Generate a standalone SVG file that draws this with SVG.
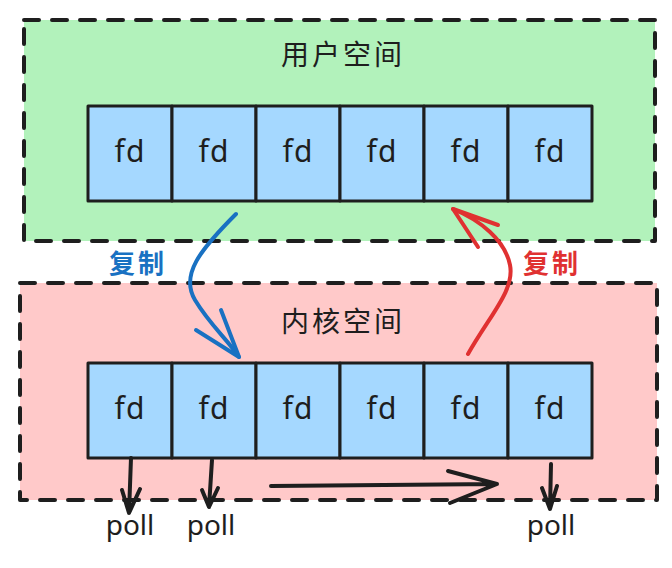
<svg xmlns="http://www.w3.org/2000/svg" width="672" height="568" viewBox="0 0 672 568">
<style>
.zone{stroke:#1e1e1e;stroke-width:4;stroke-dasharray:15 13;stroke-linecap:round;stroke-linejoin:round}
.cell{fill:#a5d8ff;stroke:#1e1e1e;stroke-width:3;stroke-linejoin:round}
.fd{font-family:"Noto Sans","Liberation Sans",sans-serif;font-size:30px;fill:#1e1e1e;text-anchor:middle;letter-spacing:1px}
.title{font-family:"Noto Sans CJK SC",sans-serif;font-size:28px;fill:#1e1e1e;text-anchor:middle;letter-spacing:3px}
.lbl{font-family:"Noto Sans CJK SC",sans-serif;font-size:26px;font-weight:bold;text-anchor:middle;letter-spacing:3px}
.poll{font-family:"Noto Sans","Liberation Sans",sans-serif;font-size:28px;fill:#1e1e1e;text-anchor:middle}
.ln{fill:none;stroke-width:4;stroke-linecap:round;stroke-linejoin:round}
</style>
<rect width="672" height="568" fill="#ffffff"/>
<g id="user-space">
<rect class="zone" x="24" y="20" width="631" height="221" fill="#b2f2bb"/>
<text class="title" x="343" y="65">用户空间</text>
</g>
<g id="kernel-space">
<rect class="zone" x="20" y="283" width="637" height="217" fill="#ffc9c9"/>
<text class="title" x="343" y="332">内核空间</text>
</g>
<g id="u1"><rect class="cell" x="88" y="106" width="84" height="95"/><text class="fd" x="130" y="162">fd</text></g>
<g id="u2"><rect class="cell" x="172" y="106" width="84" height="95"/><text class="fd" x="214" y="162">fd</text></g>
<g id="u3"><rect class="cell" x="256" y="106" width="84" height="95"/><text class="fd" x="298" y="162">fd</text></g>
<g id="u4"><rect class="cell" x="340" y="106" width="84" height="95"/><text class="fd" x="382" y="162">fd</text></g>
<g id="u5"><rect class="cell" x="424" y="106" width="84" height="95"/><text class="fd" x="466" y="162">fd</text></g>
<g id="u6"><rect class="cell" x="508" y="106" width="84" height="95"/><text class="fd" x="550" y="162">fd</text></g>
<g id="k1"><rect class="cell" x="88" y="363" width="84" height="95"/><text class="fd" x="130" y="419">fd</text></g>
<g id="k2"><rect class="cell" x="172" y="363" width="84" height="95"/><text class="fd" x="214" y="419">fd</text></g>
<g id="k3"><rect class="cell" x="256" y="363" width="84" height="95"/><text class="fd" x="298" y="419">fd</text></g>
<g id="k4"><rect class="cell" x="340" y="363" width="84" height="95"/><text class="fd" x="382" y="419">fd</text></g>
<g id="k5"><rect class="cell" x="424" y="363" width="84" height="95"/><text class="fd" x="466" y="419">fd</text></g>
<g id="k6"><rect class="cell" x="508" y="363" width="84" height="95"/><text class="fd" x="550" y="419">fd</text></g>
<g id="connectors">
<g>
<path class="ln" stroke="#1971c2" d="M236 214 C 200 250, 180 275, 195 300 C 210 325, 228 340, 239 357"/>
<path class="ln" stroke="#1971c2" d="M196 330 L239 357 L221 310"/>
</g>
<g>
<path class="ln" stroke="#e03131" d="M468 354 C 490 315, 515 290, 510 265 C 505 240, 480 220, 453 209"/>
<path class="ln" stroke="#e03131" d="M478 247 L453 209 L498 225"/>
</g>
<g>
<path class="ln" stroke="#1e1e1e" d="M131 458 L129 513 M122 490 L129 513 L140 489"/>
<path class="ln" stroke="#1e1e1e" d="M212 460 L209 507 M202 490 L209 507 L218 488"/>
<path class="ln" stroke="#1e1e1e" d="M551 464 L550 509 M542 488 L550 509 L557 486"/>
<path class="ln" stroke="#1e1e1e" d="M271 486 L497 484 M448 471 L497 484 L450 503"/>
</g>
</g>
<g id="label-copy-down"><text class="lbl" x="138" y="273" fill="#1971c2">复制</text></g>
<g id="label-copy-up"><text class="lbl" x="552" y="273" fill="#e03131">复制</text></g>
<g id="poll1"><text class="poll" x="130" y="535">poll</text></g>
<g id="poll2"><text class="poll" x="211" y="535">poll</text></g>
<g id="poll3"><text class="poll" x="551" y="535">poll</text></g>
</svg>
